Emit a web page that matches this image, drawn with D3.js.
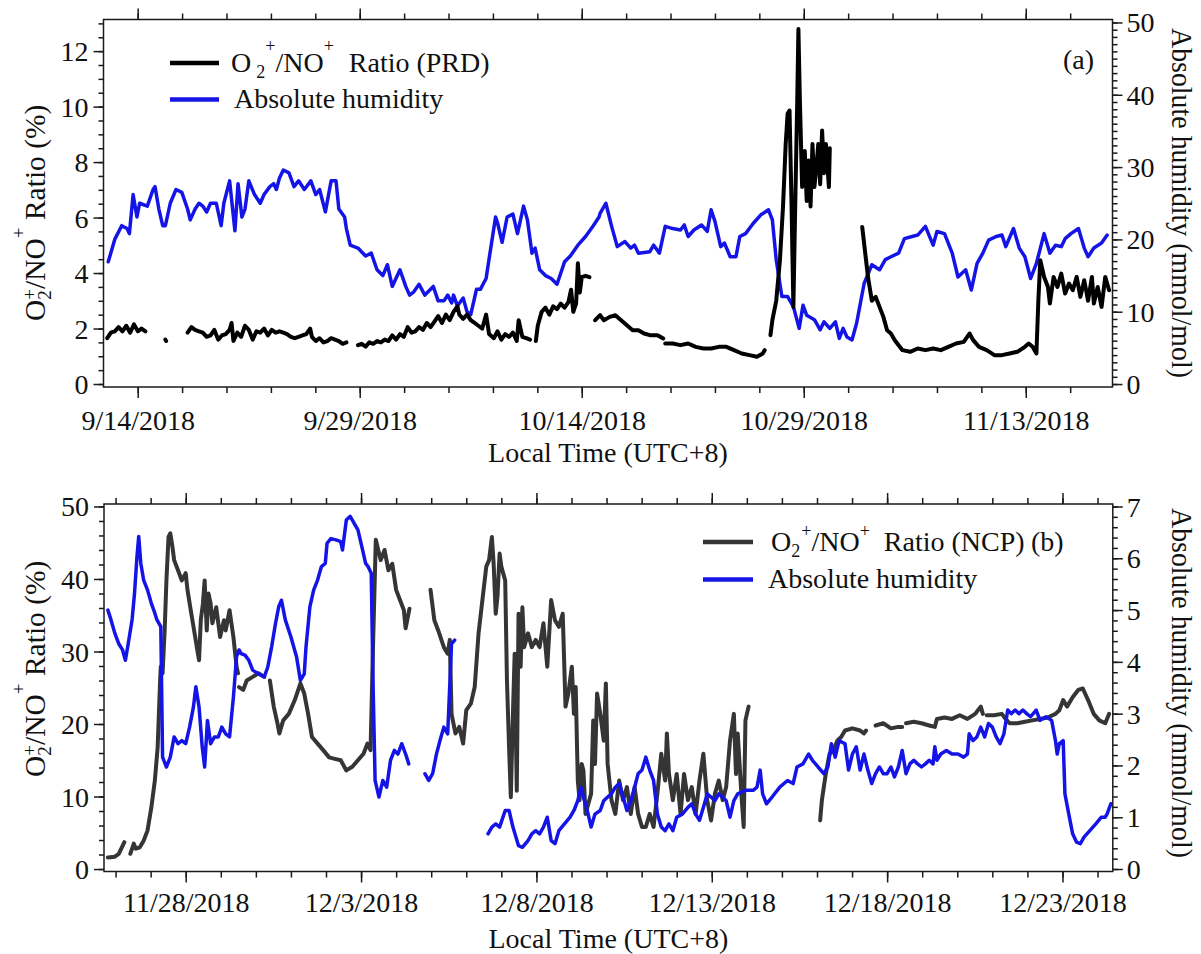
<!DOCTYPE html>
<html>
<head>
<meta charset="utf-8">
<script src="https://cdn.jsdelivr.net/npm/d3@7/dist/d3.min.js"></script>
<style>
  html, body { margin: 0; padding: 0; background: #fff; }
  svg text { font-family: "Liberation Serif", "Times New Roman", serif; fill: #111; }
</style>
</head>
<body>
<svg id="chart" width="1201" height="954"></svg>
<script>
// ---------- Panel (a): PRD campaign (x = days since 9/14/2018) ----------
const prdOrigin = "9/14/2018";
const prdDateTicks = ["9/14/2018", "9/29/2018", "10/14/2018", "10/29/2018", "11/13/2018"];
const prdRatioTicks = [0, 2, 4, 6, 8, 10, 12];
const prdHumidityTicks = [0, 10, 20, 30, 40, 50];

// [day, O2+/NO+ ratio %]; null marks a gap in the record
const prdRatio = [
  [-2.06,1.65],[-1.81,1.85],[-1.55,1.9],[-1.29,2.05],[-1.03,1.9],[-0.77,2.1],[-0.51,1.85],[-0.25,2.15],[0.01,1.9],[0.26,2.0],[0.52,1.9], null,
  [1.87,1.6],[1.92,1.55], null,
  [3.37,1.85],[3.63,2.05],[3.88,1.95],[4.14,1.9],[4.40,1.85],[4.66,1.7],[4.92,1.75],[5.18,1.95],[5.44,1.6],[5.69,1.75],[5.95,1.8],[6.21,1.95],[6.34,2.2],[6.47,1.55],[6.73,1.85],[6.99,1.7],[7.25,2.1],[7.51,1.95],[7.77,1.6],[8.02,1.9],[8.28,1.85],[8.54,2.0],[8.80,1.75],[9.06,1.95],[9.32,1.85],[9.58,1.9],[9.84,1.85],[10.09,1.8],[10.35,1.7],[10.61,1.65],[10.87,1.7],[11.13,1.75],[11.39,1.8],[11.65,2.0],[11.77,1.7],[12.03,1.55],[12.29,1.65],[12.55,1.5],[12.81,1.55],[13.07,1.65],[13.33,1.6],[13.59,1.55],[13.85,1.45],[14.10,1.5], null,
  [14.88,1.4],[15.14,1.45],[15.40,1.35],[15.65,1.5],[15.91,1.45],[16.17,1.55],[16.43,1.5],[16.69,1.6],[16.94,1.55],[17.20,1.75],[17.46,1.6],[17.72,1.8],[17.98,1.7],[18.24,2.05],[18.50,1.85],[18.75,1.9],[19.01,2.05],[19.27,1.95],[19.53,2.2],[19.79,2.05],[20.05,2.25],[20.30,2.45],[20.56,2.2],[20.82,2.5],[21.08,2.3],[21.34,2.6],[21.60,2.8],[21.73,2.5],[21.99,2.35],[22.25,2.5],[22.50,2.3],[22.76,2.2],[23.02,2.1],[23.28,2.0],[23.54,2.5],[23.74,1.8],[24.06,1.65],[24.31,1.9],[24.57,1.6],[24.83,1.8],[25.09,1.7],[25.35,1.85],[25.61,1.55],[25.74,2.3],[25.99,1.7],[26.25,1.65],[26.51,1.6], null,
  [26.90,1.55],[27.03,2.1],[27.29,2.6],[27.55,2.75],[27.81,2.5],[28.07,2.8],[28.33,2.7],[28.58,2.9],[28.84,2.75],[29.10,2.95],[29.28,3.4],[29.43,2.6],[29.62,2.9],[29.74,4.35],[29.87,3.3],[30.00,3.85],[30.26,3.9],[30.52,3.85], null,
  [30.91,2.3],[31.24,2.48],[31.50,2.3],[31.89,2.42],[32.27,2.48],[32.66,2.3],[33.05,2.12],[33.44,1.94],[33.83,1.94],[34.21,1.82],[34.60,1.76],[35.12,1.76],[35.51,1.64], null,
  [35.64,1.46],[36.15,1.46],[36.67,1.4],[37.19,1.46],[37.70,1.34],[38.22,1.28],[38.74,1.28],[39.26,1.34],[39.77,1.34],[40.29,1.22],[40.81,1.1],[41.33,1.04],[41.84,0.98],[42.23,1.1],[42.36,1.22], null,
  [42.75,1.76],[42.88,2.3],[43.14,3.0],[43.39,4.46],[43.60,6.4],[43.78,8.65],[43.91,9.74],[44.04,9.86],[44.17,6.6],[44.30,2.78],[44.43,6.6],[44.56,10.2],[44.64,12.8],[44.74,10.2],[44.89,7.1],[45.07,8.4],[45.20,6.6],[45.33,8.06],[45.46,6.4],[45.59,8.65],[45.72,7.1],[45.85,7.8],[45.98,8.65],[46.11,7.2],[46.24,9.14],[46.37,7.6],[46.50,8.65],[46.70,7.1],[46.76,8.5], null,
  [48.95,5.66],[49.34,3.86],[49.60,3.0],[49.86,3.14],[50.12,2.78],[50.38,2.42],[50.63,1.94],[50.89,1.82],[51.15,1.58],[51.41,1.4],[51.67,1.22],[52.19,1.16],[52.70,1.28],[53.22,1.22],[53.74,1.28],[54.26,1.22],[54.77,1.34],[55.29,1.46],[55.81,1.52],[56.20,1.82],[56.45,1.58],[56.84,1.34],[57.36,1.22],[57.88,1.04],[58.39,1.04],[58.91,1.1],[59.43,1.16],[59.94,1.34],[60.20,1.46],[60.46,1.34],[60.72,1.1],[60.85,3.0],[60.98,4.46],[61.24,3.86],[61.50,3.5],[61.63,2.9],[61.88,3.86],[62.14,3.5],[62.40,3.98],[62.66,3.26],[62.92,3.62],[63.18,3.38],[63.44,3.86],[63.69,3.14],[63.95,3.74],[64.21,3.0],[64.47,3.86],[64.60,2.9],[64.86,3.5],[65.12,2.78],[65.37,3.86],[65.63,3.38]
];

// [day, absolute humidity mmol/mol]
const prdHumidity = [
  [-1.99,16.9],[-1.55,20.0],[-1.08,21.9],[-0.72,21.5],[-0.56,20.8],[-0.31,26.2],[-0.05,23.1],[0.13,25.0],[0.65,24.6],[1.04,26.9],[1.17,27.3],[1.43,24.2],[1.69,21.9],[1.87,21.9],[2.20,25.0],[2.59,26.9],[2.98,26.5],[3.37,24.2],[3.55,22.7],[3.88,24.2],[4.14,25.0],[4.40,24.6],[4.66,23.8],[4.92,25.0],[5.31,25.0],[5.64,21.9],[5.82,25.0],[6.21,28.1],[6.47,23.1],[6.57,21.2],[6.78,27.7],[7.04,23.1],[7.25,24.2],[7.51,28.1],[7.89,26.2],[8.28,25.0],[8.54,26.2],[8.93,27.3],[9.19,27.7],[9.37,26.9],[9.58,28.5],[9.84,29.6],[10.22,29.2],[10.56,27.3],[10.87,28.1],[11.26,26.9],[11.70,28.1],[12.03,26.2],[12.29,26.9],[12.68,23.8],[13.07,28.1],[13.40,28.1],[13.59,24.2],[13.98,23.1],[14.10,21.5],[14.36,19.2],[14.88,18.8],[15.40,17.7],[15.78,18.1],[16.17,15.8],[16.56,15.0],[16.87,16.5],[17.20,13.5],[17.72,15.8],[18.11,13.5],[18.37,12.3],[18.63,12.7],[19.01,13.8],[19.40,12.3],[19.97,13.5],[20.30,11.5],[20.69,11.5],[20.95,12.3],[21.21,11.2],[21.34,12.3],[21.60,10.8],[21.99,11.9],[22.25,10.0],[22.50,9.6],[22.89,13.1],[23.15,13.1],[23.54,14.6],[23.80,18.1],[24.18,23.1],[24.31,22.3],[24.62,19.6],[24.96,23.1],[25.35,23.5],[25.66,20.8],[26.07,24.6],[26.33,22.7],[26.64,18.1],[26.85,18.8],[27.16,15.8],[27.55,15.0],[27.94,14.6],[28.33,13.8],[28.84,16.9],[29.23,17.7],[29.74,19.2],[30.26,20.4],[30.78,21.9],[31.17,23.1],
  [31.24,23.6],[31.63,25.0],[32.02,21.8],[32.40,19.0],[32.92,19.7],[33.31,18.8],[33.57,19.2],[33.83,18.1],[34.60,18.3],[34.86,19.2],[35.25,18.1],[35.64,21.8],[36.15,21.5],[36.67,21.3],[36.93,22.0],[37.19,20.4],[37.58,21.3],[38.09,22.0],[38.48,21.1],[38.74,24.1],[39.00,22.5],[39.39,19.0],[39.64,19.5],[40.03,17.6],[40.42,17.6],[40.68,20.4],[41.07,20.8],[41.58,22.2],[42.10,23.4],[42.62,24.1],[42.88,22.7],[43.14,17.2],[43.52,12.1],[43.91,12.1],[44.30,10.7],[44.69,7.7],[44.95,10.9],[45.20,9.5],[45.72,8.9],[46.11,7.5],[46.37,8.6],[46.76,7.7],[47.14,8.6],[47.40,6.3],[47.66,7.7],[47.92,6.5],[48.26,6.1],[48.57,8.4],[49.08,13.9],[49.60,16.5],[50.12,15.8],[50.51,17.2],[50.89,17.6],[51.41,18.1],[51.80,20.1],[52.32,20.4],[52.70,20.6],[53.22,21.8],[53.74,19.2],[54.00,21.1],[54.51,20.8],[55.03,18.1],[55.42,14.8],[55.94,15.8],[56.32,13.0],[56.71,16.7],[57.10,18.1],[57.49,19.9],[58.00,20.4],[58.39,20.6],[58.65,19.0],[59.17,21.5],[59.56,18.8],[59.94,17.6],[60.33,14.6],[60.72,16.7],[61.24,20.8],[61.63,18.1],[62.01,19.2],[62.40,19.0],[62.66,20.1],[63.05,20.8],[63.56,21.5],[63.95,18.8],[64.21,17.6],[64.60,18.8],[65.12,19.5],[65.50,20.6]
];

// ---------- Panel (b): NCP campaign (x = days since 11/28/2018) ----------
const ncpOrigin = "11/28/2018";
const ncpDateTicks = ["11/28/2018", "12/3/2018", "12/8/2018", "12/13/2018", "12/18/2018", "12/23/2018"];
const ncpRatioTicks = [0, 10, 20, 30, 40, 50];
const ncpHumidityTicks = [0, 1, 2, 3, 4, 5, 6, 7];

const ncpRatio = [
  [-2.22,1.6],[-2.02,1.7],[-1.91,2.1],[-1.80,3.2],[-1.75,3.7], null,
  [-1.58,2.1],[-1.48,3.5],[-1.42,2.8],[-1.31,3.0],[-1.20,3.9],[-1.09,5.3],[-0.98,8.5],[-0.88,12.2],[-0.80,16.8],[-0.73,26],[-0.71,27.9],[-0.66,27],[-0.60,32.9],[-0.55,39.8],[-0.49,45.8],[-0.44,46.3],[-0.38,44.5],[-0.33,42.6],[-0.22,41.2],[-0.11,39.8],[0.00,40.8],[0.05,38.5],[0.16,35.2],[0.27,32],[0.33,30.2],[0.38,28.8],[0.43,34.3],[0.49,36.6],[0.54,39.8],[0.60,32.9],[0.65,38],[0.71,36.6],[0.76,33.9],[0.87,36.1],[0.98,32],[1.09,34.3],[1.14,32.9],[1.25,35.7],[1.36,32],[1.45,27.9],[1.49,27], null,
  [1.52,25.1],[1.64,24.7],[1.74,26],[1.91,26.5],[2.07,27],[2.24,26.5], null,
  [2.40,26],[2.51,22.4],[2.62,20],[2.67,18.7],[2.78,20.5],[2.94,21.4],[3.11,23.3],[3.27,25.6],[3.38,24.2],[3.49,21.4],[3.60,18.2],[3.76,17.3],[3.92,16.4],[4.09,15.4],[4.25,15.2],[4.42,15],[4.58,13.6],[4.75,14.1],[4.91,15],[5.07,15.9],[5.18,17.3],[5.27,16.4],[5.34,30.6],[5.42,45.4],[5.49,44],[5.56,42.6],[5.67,44],[5.78,41.2],[5.89,42.1],[6.00,38.5],[6.11,37.1],[6.22,35.7],[6.27,33.2],[6.38,35.9], null,
  [6.98,38.5],[7.09,34.3],[7.20,32.9],[7.36,30.6],[7.47,29.7],[7.53,31.6],[7.58,21.4],[7.69,18.7],[7.80,19.6],[7.91,17.3],[8.00,21.9],[8.13,22.8],[8.24,25.1],[8.35,32.5],[8.46,37.1],[8.57,41.7],[8.65,42.6],[8.73,45.8],[8.78,42.1],[8.84,35.2],[8.89,37.6],[8.95,43.5],[9.00,41.7],[9.11,39.8],[9.16,26],[9.22,16.8],[9.27,9.9],[9.33,21.4],[9.38,29.7],[9.44,10.8],[9.49,35.2],[9.55,27.9],[9.60,36.1],[9.65,30.6],[9.76,32.5],[9.87,30.6],[9.98,31.6],[10.09,30.6],[10.20,33.9],[10.31,27.9],[10.42,37.1],[10.53,34.3],[10.64,33.4],[10.75,35.2],[10.83,22.4],[10.91,24.2],[11.01,27.9],[11.07,21.4],[11.12,25.1],[11.18,12.2],[11.23,9.5],[11.29,14.5],[11.34,13.6],[11.40,7.6],[11.56,10.4],[11.62,20.5],[11.67,14.5],[11.73,24.2],[11.82,21.4],
  [11.92,17.7],[11.98,25.6],[12.03,14.5],[12.14,9.5],[12.25,7.6],[12.36,12.2],[12.47,9.5],[12.58,11.3],[12.69,7.6],[12.80,11.3],[12.90,7.6],[13.01,5.8],[13.12,5.8],[13.23,7.6],[13.34,5.8],[13.45,10.4],[13.56,15.9],[13.67,12.2],[13.72,18.7],[13.78,13.1],[13.89,9.5],[14.00,13.1],[14.11,7.6],[14.21,13.1],[14.32,9.5],[14.43,11.3],[14.54,7.6],[14.65,12.2],[14.76,15.9],[14.87,9.5],[14.98,6.7],[15.09,10.4],[15.20,12.2],[15.31,9.5],[15.41,11.3],[15.52,17.7],[15.63,21.4],[15.69,13.1],[15.74,18.7],[15.85,9.9],[15.91,5.8],[15.96,20.5],[16.05,22.4], null,
  [18.09,6.7],[18.14,9.5],[18.25,13.1],[18.36,15.9],[18.47,16.4],[18.58,17.7],[18.69,18.2],[18.80,19.1],[19.01,19.4],[19.23,19.1],[19.34,18.7],[19.40,19.1], null,
  [19.67,19.8],[19.89,20.1],[20.11,19.4],[20.32,19.6],[20.43,19.6], null,
  [20.54,20.1],[20.76,20.3],[20.98,20.1],[21.20,19.8],[21.36,19.6],[21.42,20.7],[21.64,20.9],[21.85,20.7],[22.07,21.2],[22.29,20.7],[22.51,21.4],[22.67,22.4],[22.73,21.4], null,
  [22.84,21.2],[23.05,21.2],[23.27,21.4],[23.38,20.7],[23.49,20.1],[23.71,20.1],[23.93,20.3],[24.14,20.5],[24.36,20.7],[24.58,20.9],[24.80,21.4],[24.91,21.9],[25.02,23.3],[25.13,22.4],[25.29,23.7],[25.45,24.7],[25.58,24.9],[25.73,23.3],[25.89,21.4],[26.05,20.5],[26.22,20.1],[26.33,21.4]
];

const ncpHumidity = [
  [-2.22,5.0],[-2.13,4.81],[-2.02,4.55],[-1.91,4.35],[-1.80,4.23],[-1.72,4.03],[-1.64,4.35],[-1.53,4.81],[-1.46,5.32],[-1.39,6.03],[-1.34,6.42],[-1.28,5.9],[-1.20,5.58],[-1.09,5.39],[-0.98,5.13],[-0.88,4.94],[-0.82,4.81],[-0.71,4.68],[-0.66,2.16],[-0.55,1.97],[-0.44,2.16],[-0.33,2.55],[-0.22,2.42],[-0.11,2.48],[0.00,2.42],[0.11,2.74],[0.22,3.13],[0.29,3.52],[0.38,3.13],[0.47,2.36],[0.54,1.97],[0.62,2.87],[0.71,2.42],[0.82,2.55],[0.93,2.55],[1.03,2.74],[1.14,2.61],[1.25,2.55],[1.36,3.32],[1.45,4.1],[1.52,4.23],[1.58,4.16],[1.69,4.13],[1.80,4.03],[1.91,3.84],[2.07,3.77],[2.24,3.71],[2.34,3.9],[2.45,4.29],[2.56,4.74],[2.65,5.06],[2.73,5.19],[2.84,4.81],[3.00,4.48],[3.16,4.1],[3.27,3.64],[3.38,3.77],[3.43,4.29],[3.54,5.06],[3.65,5.39],[3.76,5.58],[3.87,5.84],[3.98,5.9],[4.03,6.29],[4.14,6.38],[4.31,6.35],[4.42,6.32],[4.47,6.16],[4.58,6.74],[4.69,6.81],[4.80,6.68],[4.91,6.55],[5.02,6.23],[5.13,5.9],[5.20,5.84],[5.29,5.71],[5.34,3.64],[5.40,1.71],[5.51,1.39],[5.62,1.71],[5.73,1.58],[5.84,2.1],[5.95,2.29],[6.05,2.22],[6.16,2.42],[6.27,2.22],[6.36,2.03], null,
  [6.82,1.84],[6.93,1.71],[7.04,1.84],[7.15,2.22],[7.25,2.48],[7.36,2.74],[7.47,2.61],[7.58,4.35],[7.67,4.42], null,
  [8.62,0.68],[8.73,0.81],[8.84,0.87],[8.95,0.81],[9.11,1.13],[9.22,1.13],[9.33,0.81],[9.49,0.45],[9.60,0.42],[9.76,0.55],[9.87,0.68],[9.98,0.74],[10.09,0.68],[10.20,0.81],[10.31,1.0],[10.42,0.55],[10.53,0.49],[10.64,0.74],[10.80,0.87],[10.96,1.0],[11.07,1.13],[11.18,1.32],[11.27,1.58],[11.34,1.39],[11.45,1.13],[11.56,0.81],[11.67,1.06],[11.82,1.13],
  [11.92,1.32],[12.03,1.39],[12.14,1.45],[12.25,1.58],[12.36,1.65],[12.47,1.39],[12.58,1.13],[12.69,1.32],[12.80,1.58],[12.90,1.84],[13.01,1.91],[13.12,2.16],[13.23,1.91],[13.34,1.71],[13.45,1.06],[13.56,0.81],[13.67,0.74],[13.78,0.87],[13.89,0.74],[14.00,1.0],[14.16,1.06],[14.32,1.19],[14.43,1.26],[14.54,1.06],[14.65,0.94],[14.76,1.19],[14.87,1.45],[14.98,1.39],[15.09,1.32],[15.20,1.45],[15.31,1.39],[15.41,1.32],[15.52,1.0],[15.63,1.32],[15.74,1.45],[15.96,1.52],[16.18,1.52],[16.29,1.58],[16.38,1.91],[16.45,1.45],[16.56,1.26],[16.72,1.39],[16.94,1.58],[17.16,1.71],[17.32,1.65],[17.43,1.97],[17.60,2.03],[17.76,2.22],[17.87,2.1],[18.03,1.97],[18.20,1.84],[18.31,1.97],[18.41,2.42],[18.52,2.16],[18.63,2.48],[18.80,2.42],[18.90,1.91],[19.01,2.22],[19.12,2.36],[19.23,1.91],[19.34,2.22],[19.45,1.91],[19.56,1.65],[19.67,1.84],[19.78,1.97],[19.89,1.84],[20.00,1.84],[20.11,1.97],[20.21,1.78],[20.32,1.97],[20.43,2.29],[20.54,1.84],[20.65,2.03],[20.76,2.1],[20.87,2.03],[20.98,1.97],[21.09,2.03],[21.20,2.1],[21.31,2.03],[21.36,2.36],[21.42,2.1],[21.53,2.22],[21.69,2.29],[21.85,2.22],[22.02,2.22],[22.18,2.16],[22.29,2.22],[22.34,2.61],[22.45,2.48],[22.56,2.55],[22.67,2.74],[22.78,2.55],[22.89,2.81],[23.00,2.74],[23.11,2.55],[23.22,2.42],[23.33,2.61],[23.44,3.07],[23.54,3.0],[23.65,3.07],[23.76,3.0],[23.87,3.07],[23.98,3.0],[24.09,2.94],[24.25,3.07],[24.36,2.87],[24.53,2.94],[24.69,2.87],[24.80,2.48],[24.85,2.22],[24.91,2.42],[25.02,2.48],[25.07,1.45],[25.18,1.06],[25.29,0.68],[25.40,0.52],[25.51,0.49],[25.62,0.62],[25.78,0.74],[25.95,0.87],[26.11,1.0],[26.22,1.0],[26.27,1.06],[26.38,1.26]
];

// ---------- drawing ----------
const DAY = 864e5;
const parseDate = d3.timeParse("%m/%d/%Y");
const labelDate = d => `${d.getMonth() + 1}/${d.getDate()}/${d.getFullYear()}`;
const BLUE = "#1414e6";
const AXIS = "#1a1a1a";
const svg = d3.select("#chart");

function styleAxis(sel) {
  sel.select(".domain").remove();
  sel.attr("font-family", null).attr("font-size", null);
  sel.selectAll("line").attr("stroke", AXIS).attr("stroke-width", 1.5);
  sel.selectAll("text").attr("fill", "#111").style("font-size", "28px");
}

// "O2+/NO+ <tail>" built from tspans: subscript 2, superscript + signs
function ionLabel(text, tail, o) {
  const small = o.small;
  text.append("tspan").text("O");
  text.append("tspan").attr("font-size", small).attr("dx", o.subDx).attr("dy", o.subDy).text("2");
  text.append("tspan").attr("font-size", small).attr("dx", o.plus1Dx).attr("dy", o.plus1Dy).text("+");
  text.append("tspan").attr("dy", -(o.subDy + o.plus1Dy)).text("/NO");
  text.append("tspan").attr("font-size", small).attr("dy", o.plus2Dy).text("+");
  text.append("tspan").attr("dx", o.tailDx).attr("dy", -o.plus2Dy).text(" " + tail);
}

function drawPanel(p) {
  const origin = parseDate(p.origin);
  const toDate = day => new Date(origin.getTime() + day * DAY);
  const x = d3.scaleTime().domain([toDate(p.xDays[0]), toDate(p.xDays[1])]).range([p.left, p.right]);
  const yL = d3.scaleLinear().domain(p.yLeft).range([p.bottom, p.top]);
  const yR = d3.scaleLinear().domain(p.yRight).range([p.bottom, p.top]);
  const g = svg.append("g");

  const majorDates = p.dateTicks.map(parseDate);
  const minorDates = d3.timeDay.range(toDate(p.xDays[0]), toDate(p.xDays[1]))
    .filter(d => Math.round((d - origin) / DAY) % p.minorDays === 0);

  // bottom and mirrored top date ticks
  g.append("g").attr("transform", `translate(0,${p.bottom})`)
    .call(d3.axisBottom(x).tickValues(minorDates).tickSize(6).tickFormat("")).call(styleAxis);
  g.append("g").attr("transform", `translate(0,${p.bottom})`)
    .call(d3.axisBottom(x).tickValues(majorDates).tickSize(11).tickFormat(labelDate)).call(styleAxis)
    .selectAll("text").attr("y", p.dateLabelY - p.bottom).attr("dy", 0);
  g.append("g").attr("transform", `translate(0,${p.top})`)
    .call(d3.axisTop(x).tickValues(minorDates).tickSize(6).tickFormat("")).call(styleAxis);
  g.append("g").attr("transform", `translate(0,${p.top})`)
    .call(d3.axisTop(x).tickValues(majorDates).tickSize(11).tickFormat("")).call(styleAxis);

  // left axis (ratio)
  const leftMinor = d3.range(0, p.yLeft[1] + 1e-6, p.leftMinor);
  g.append("g").attr("transform", `translate(${p.left},0)`)
    .call(d3.axisLeft(yL).tickValues(leftMinor).tickSize(5).tickFormat("")).call(styleAxis);
  g.append("g").attr("transform", `translate(${p.left},0)`)
    .call(d3.axisLeft(yL).tickValues(p.leftTicks).tickSize(10).tickPadding(5)).call(styleAxis)
    .selectAll("text").attr("dy", "0.34em");

  // right axis (humidity)
  const rightMinor = d3.range(0, p.yRight[1] + 1e-6, p.rightMinor);
  g.append("g").attr("transform", `translate(${p.right},0)`)
    .call(d3.axisRight(yR).tickValues(rightMinor).tickSize(5).tickFormat("")).call(styleAxis);
  g.append("g").attr("transform", `translate(${p.right},0)`)
    .call(d3.axisRight(yR).tickValues(p.rightTicks).tickSize(10).tickPadding(4)).call(styleAxis)
    .selectAll("text").attr("dy", "0.34em");

  // series
  const clipId = "clip-" + p.key;
  g.append("clipPath").attr("id", clipId).append("rect")
    .attr("x", p.left).attr("y", p.top).attr("width", p.right - p.left).attr("height", p.bottom - p.top);
  const lineL = d3.line().defined(d => d !== null).x(d => x(toDate(d[0]))).y(d => yL(d[1]));
  const lineR = d3.line().defined(d => d !== null).x(d => x(toDate(d[0]))).y(d => yR(d[1]));
  const plot = g.append("g").attr("clip-path", `url(#${clipId})`);
  const drawRatio = () => plot.append("path").datum(p.ratio).attr("d", lineL)
    .attr("fill", "none").attr("stroke", p.ratioColor).attr("stroke-width", p.ratioWidth)
    .attr("stroke-linejoin", "round").attr("stroke-linecap", "round");
  const drawHum = () => plot.append("path").datum(p.humidity).attr("d", lineR)
    .attr("fill", "none").attr("stroke", BLUE).attr("stroke-width", 3.5)
    .attr("stroke-linejoin", "round").attr("stroke-linecap", "round");
  if (p.ratioOnTop) { drawHum(); drawRatio(); } else { drawRatio(); drawHum(); }

  // frame
  g.append("rect").attr("x", p.left).attr("y", p.top)
    .attr("width", p.right - p.left).attr("height", p.bottom - p.top)
    .attr("fill", "none").attr("stroke", AXIS).attr("stroke-width", 1.5);

  // axis titles
  g.append("text").attr("x", (p.left + p.right) / 2).attr("y", p.xTitleY)
    .attr("text-anchor", "middle").style("font-size", "28px").text("Local Time (UTC+8)");
  const yt = g.append("text").attr("transform", `translate(45,${p.leftTitleStart}) rotate(-90)`)
    .style("font-size", "29.5px");
  ionLabel(yt, "Ratio (%)", { small: 19, subDx: 0, subDy: 6, plus1Dx: -9.5, plus1Dy: -15, plus2Dy: -20, tailDx: 0 });
  g.append("text").attr("transform", `translate(1172,${p.rightTitleStart}) rotate(90)`)
    .style("font-size", "29px").attr("textLength", 350).attr("lengthAdjust", "spacingAndGlyphs")
    .text("Absolute humidity (mmol/mol)");

  // legend
  const L = p.legend;
  g.append("line").attr("x1", L.x1).attr("x2", L.x2).attr("y1", L.y1).attr("y2", L.y1)
    .attr("stroke", p.ratioColor).attr("stroke-width", 4.5);
  g.append("line").attr("x1", L.x1).attr("x2", L.x2).attr("y1", L.y2).attr("y2", L.y2)
    .attr("stroke", BLUE).attr("stroke-width", 4.5);
  const lt = g.append("text").attr("x", L.tx).attr("y", L.y1 + 9).style("font-size", "28px");
  ionLabel(lt, p.legendTail, L.ion);
  g.append("text").attr("x", L.tx2).attr("y", L.y2 + 8).style("font-size", "28px").text("Absolute humidity");
  g.append("text").attr("x", p.tag[0]).attr("y", p.tag[1]).style("font-size", "28px").text(p.tagText);
}

drawPanel({
  key: "prd", origin: prdOrigin, xDays: [-2.31, 65.86],
  left: 103.5, right: 1112.5, top: 19.5, bottom: 387,
  yLeft: [-0.108, 13.14], yRight: [-0.41, 50.41],
  dateTicks: prdDateTicks, minorDays: 3, dateLabelY: 430, xTitleY: 462,
  leftTicks: prdRatioTicks, leftMinor: 0.5, rightTicks: prdHumidityTicks, rightMinor: 1,
  ratio: prdRatio, humidity: prdHumidity, ratioColor: "#000", ratioWidth: 4, ratioOnTop: true,
  leftTitleStart: 321, rightTitleStart: 28,
  legend: { x1: 170, x2: 219, y1: 63, y2: 99.5, tx: 231, tx2: 234,
            ion: { small: 18, subDx: 5, subDy: 6, plus1Dx: 0, plus1Dy: -26, plus2Dy: -20, tailDx: 8 } },
  legendTail: "Ratio (PRD)",
  tag: [1063, 69], tagText: "(a)"
});

drawPanel({
  key: "ncp", origin: ncpOrigin, xDays: [-2.33, 26.435],
  left: 104, right: 1112.8, top: 504, bottom: 871.5,
  yLeft: [-0.34, 50.34], yRight: [-0.048, 7.048],
  dateTicks: ncpDateTicks, minorDays: 1, dateLabelY: 912, xTitleY: 948,
  leftTicks: ncpRatioTicks, leftMinor: 2, rightTicks: ncpHumidityTicks, rightMinor: 0.2,
  ratio: ncpRatio, humidity: ncpHumidity, ratioColor: "#353535", ratioWidth: 4, ratioOnTop: false,
  leftTitleStart: 777, rightTitleStart: 508,
  legend: { x1: 703, x2: 753, y1: 542, y2: 579.5, tx: 771, tx2: 768,
            ion: { small: 18, subDx: 0, subDy: 6, plus1Dx: 1, plus1Dy: -20, plus2Dy: -14, tailDx: 7 } },
  legendTail: "Ratio (NCP)",
  tag: [1031, 551], tagText: "(b)"
});
</script>
</body>
</html>
